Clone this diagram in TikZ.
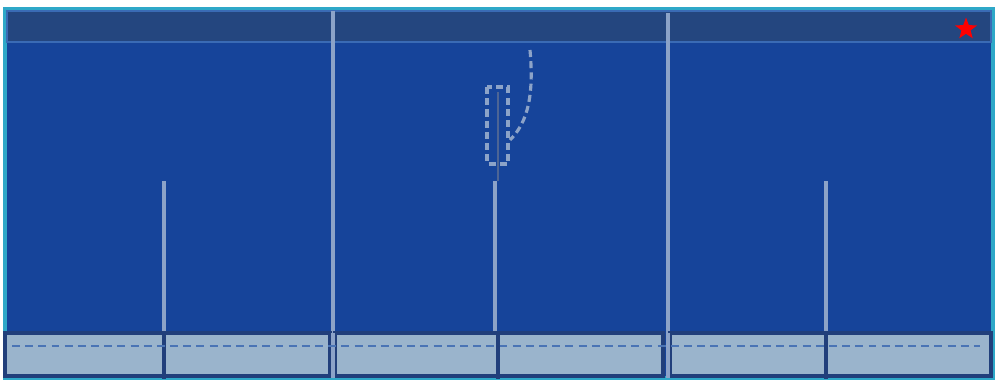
\documentclass[tikz,border=0pt]{standalone}
\usepackage{xcolor}
\usepackage{tikz}
\usetikzlibrary{shapes.geometric,positioning}

\definecolor{panelblue}{HTML}{16449A}
\definecolor{barblue}{HTML}{24467F}
\definecolor{barline}{HTML}{3A6BB5}
\definecolor{rimcyan}{HTML}{2EA8C8}
\definecolor{railgrey}{HTML}{8CA3C8}
\definecolor{cellfill}{HTML}{9AB4CC}
\definecolor{celledge}{HTML}{213F7B}
\definecolor{dashblue}{HTML}{4A74B5}

\begin{document}
\begin{tikzpicture}[
    x=0.02cm, y=-0.02cm,
    panel/.style={fill=panelblue, draw=rimcyan, line width=2pt},
    topbar/.style={fill=barblue, draw=barline, line width=1.6pt},
    rail/.style={draw=railgrey, line width=2pt},
    cellbox/.style={fill=cellfill, draw=celledge, line width=2.2pt},
    divider/.style={draw=celledge, line width=2.2pt},
    midline/.style={draw=dashblue, line width=1.7pt, dash pattern=on 4.5pt off 3pt},
    ghost/.style={draw=railgrey, line width=1.8pt, dash pattern=on 4pt off 2.4pt},
    flagstar/.style={star, star points=5, star point ratio=2.4, fill=red, inner sep=0pt,
      minimum size=0.46cm},
  ]
    \useasboundingbox (0,0) rectangle (996,381);

    % --- panel and header ---
    \draw[panel] (5,9) rectangle (993,378);
    \draw[topbar] (7,11) rectangle (991,42);
    \node[flagstar] (flag) at (966,29) {};

    % --- long rails ---
    \coordinate (r1-top) at (333,11);
    \coordinate (r1-bot) at (333,378);
    \coordinate (r2-top) at (668,13);
    \coordinate (r2-bot) at (668,378);
    \draw[rail] (r1-top) -- (r1-bot);
    \draw[rail] (r2-top) -- (r2-bot);

    % --- short rails ---
    \foreach \x/\n in {164/a, 495/b, 826/c} {
      \coordinate (s\n-top) at (\x,181);
      \coordinate (s\n-bot) at (\x,334);
      \draw[rail] (s\n-top) -- (s\n-bot);
    }

    % --- bottom cells ---
    \draw[cellbox] (5,333) rectangle (330,376);
    \draw[cellbox] (335,333) rectangle (663,376);
    \draw[cellbox] (670,333) rectangle (991,376);
    \foreach \x in {164, 498, 826}
      \draw[divider] (\x,333) -- (\x,379);
    \draw[rail] (333,333) -- (333,378);
    \draw[rail] (668,333) -- (668,378);
    \draw[midline] (12,346) -- (980,346);

    % --- dashed slot and hook ---
    \draw[draw=celledge!80, line width=1.4pt] (498,92) -- (498,181);
    \draw[ghost] (487,87) rectangle (508,164);
    \draw[ghost] (530,50) .. controls (534,95) and (528,122) .. (510,140);
\end{tikzpicture}
\end{document}
